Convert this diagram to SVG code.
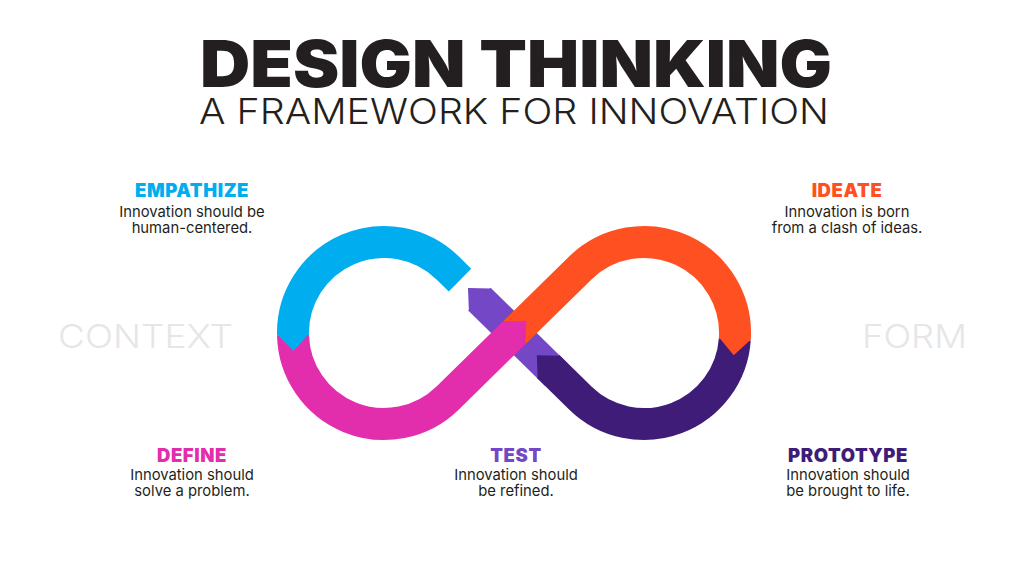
<svg xmlns="http://www.w3.org/2000/svg" width="1024" height="576" viewBox="0 0 1024 576">
<style>
.band{fill:none;stroke-width:32;stroke-linecap:butt;stroke-linejoin:round}
.ttl{font-family:Inter,"Liberation Sans",sans-serif;fill:#231F20}
.title{font-weight:900;font-size:64px}
.sub{font-weight:300;font-size:35px}
.side{font-family:Inter,"Liberation Sans",sans-serif;font-weight:300;font-size:33px;fill:#E6E6E6}
.h{font-family:Inter,"Liberation Sans",sans-serif;font-weight:900;font-size:18.5px;letter-spacing:0.6px;text-anchor:middle}
.b{font-family:Inter,"Liberation Sans",sans-serif;font-size:14.8px;fill:#231F20;text-anchor:middle}
</style>
<rect width="1024" height="576" fill="#fff"/>
<g id="title">
<text class="ttl"><tspan class="title" x="200" y="87" textLength="632" lengthAdjust="spacingAndGlyphs">DESIGN THINKING</tspan><tspan class="sub" x="199" y="124" textLength="630" lengthAdjust="spacingAndGlyphs">A FRAMEWORK FOR INNOVATION</tspan></text>
</g>
<g id="side-labels">
<text class="side" x="58" y="348" textLength="175" lengthAdjust="spacingAndGlyphs">CONTEXT</text>
<text class="side" x="862" y="348" textLength="105" lengthAdjust="spacingAndGlyphs">FORM</text>
</g>
<g id="connectors">
<g id="test-band">
<path class="band" stroke="#7447C6" d="M556.1 374.3 L479.4 299.1"/>
<polygon fill="#7447C6" points="491.3,288.4 468.0,287.9 468.9,311.2"/>
</g>
<g id="prototype-band">
<path class="band" stroke="#3F1C78" d="M734.8 339.3 A91 91 0 0 1 580.3 398 L548.2 366.5"/>
<polygon fill="#3F1C78" points="560.1,355.8 536.8,355.3 537.7,378.6"/>
</g>
<g id="ideate-band">
<path class="band" stroke="#FF5022" d="M515 332 L580.3 268 A91 91 0 0 1 734.8 339.3"/>
<polygon fill="#FF5022" points="750.9,339.4 733.7,355.3 718.9,337.2"/>
</g>
<g id="define-band">
<path class="band" stroke="#E22DAD" d="M293.0 335.1 A91 91 0 0 0 447.7 398 L515 332"/>
<polygon fill="#E22DAD" points="525.5,344.1 526.4,320.8 503.1,321.3"/>
</g>
<g id="empathize-band">
<path class="band" stroke="#00AEEF" d="M460.0 280.1 L447.7 268 A91 91 0 0 0 293.0 335.1"/>
<polygon fill="#00AEEF" points="277.0,334.5 293.4,351.1 309.0,333.7"/>
</g>
</g>
<g id="empathize">
<text class="h" x="192" y="197" fill="#00AEEF">EMPATHIZE</text>
<text class="b" x="192" y="217">Innovation should be</text>
<text class="b" x="192" y="233">human-centered.</text>
</g>
<g id="ideate">
<text class="h" x="847" y="197" fill="#FF5022">IDEATE</text>
<text class="b" x="847" y="217">Innovation is born</text>
<text class="b" x="847" y="233">from a clash of ideas.</text>
</g>
<g id="define">
<text class="h" x="192" y="462" fill="#E22DAD">DEFINE</text>
<text class="b" x="192" y="480">Innovation should</text>
<text class="b" x="192" y="496">solve a problem.</text>
</g>
<g id="test">
<text class="h" x="516" y="462" fill="#7447C6">TEST</text>
<text class="b" x="516" y="480">Innovation should</text>
<text class="b" x="516" y="496">be refined.</text>
</g>
<g id="prototype">
<text class="h" x="848" y="462" fill="#3F1C78">PROTOTYPE</text>
<text class="b" x="848" y="480">Innovation should</text>
<text class="b" x="848" y="496">be brought to life.</text>
</g>
</svg>
